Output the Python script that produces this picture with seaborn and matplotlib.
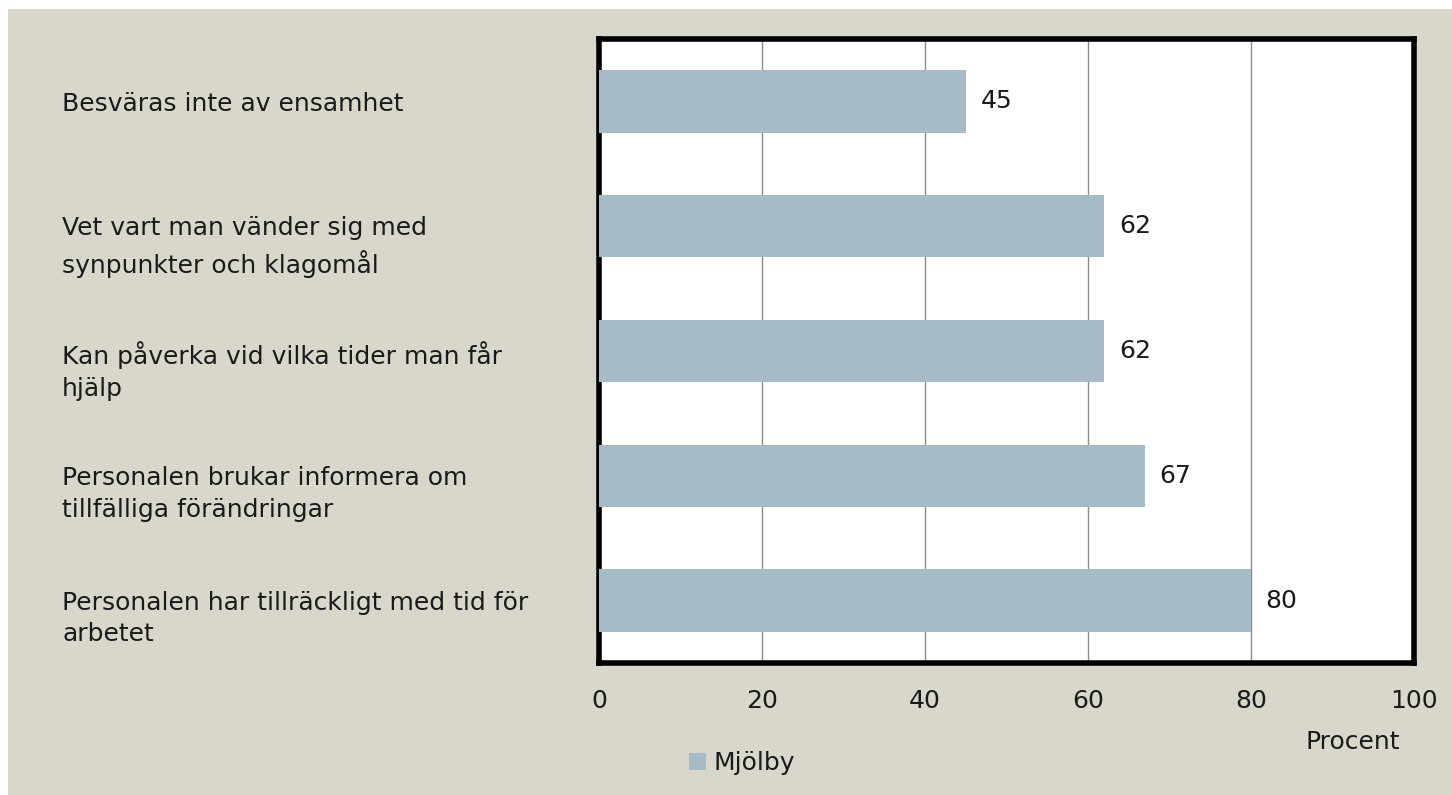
import matplotlib
matplotlib.use('Agg')
import matplotlib.pyplot as plt
import matplotlib.transforms as mtransforms
from matplotlib.patches import Patch, Rectangle
import seaborn as sns
import pandas as pd

# Data
kategorier = [
    'Besväras inte av ensamhet',
    'Vet vart man vänder sig med\nsynpunkter och klagomål',
    'Kan påverka vid vilka tider man får\nhjälp',
    'Personalen brukar informera om\ntillfälliga förändringar',
    'Personalen har tillräckligt med tid för\narbetet',
]
procent = [45, 62, 62, 67, 80]
serie = 'Mjölby'
x_ticks = [0, 20, 40, 60, 80, 100]

bakgrund = '#D9D7CB'
stapel_farg = '#A7BBC6'
textfarg = '#1a1a1a'
fs = 18

sns.set_theme(style='white')
plt.rcParams['font.family'] = ['DejaVu Sans']

df = pd.DataFrame({'kategori': kategorier, 'procent': procent})

fig = plt.figure(figsize=(14.52, 7.95), dpi=100, facecolor='white')
# beige bakgrund med smal vit kant uppe och till vänster
fig.patches.append(Rectangle((8 / 1452, 0), 1, 1 - 9 / 795, transform=fig.transFigure,
                             facecolor=bakgrund, edgecolor='none', zorder=-10))

ax = fig.add_axes([599 / 1452, 1 - 663 / 795, 815 / 1452, 624 / 795])
sns.barplot(data=df, x='procent', y='kategori', color=stapel_farg, width=0.5,
            saturation=1, linewidth=0, ax=ax, zorder=3)

ax.set_xlim(0, 100)
ax.set_ylim(4.5, -0.5)
ax.set_xticks(x_ticks)
ax.set_xticklabels([str(t) for t in x_ticks], fontsize=fs)
ax.tick_params(axis='x', length=0, pad=19, colors=textfarg)
ax.set_yticks([])
ax.set_xlabel('')
ax.set_ylabel('')
ax.set_facecolor('white')
ax.grid(axis='x', color='#8c8c8c', linewidth=1, zorder=0)
ax.set_axisbelow(True)
for s in ax.spines.values():
    s.set_color('black')
    s.set_linewidth(4)

# kategorietiketter, vänsterjusterade; första raden i höjd med stapeln
trans = mtransforms.blended_transform_factory(fig.transFigure, ax.transData)
trans = mtransforms.offset_copy(trans, fig=fig, y=7, units='points')
for i, namn in enumerate(kategorier):
    fig.text(62 / 1452, i, namn, transform=trans, ha='left', va='top',
             fontsize=fs, color=textfarg, linespacing=1.4)

# värdeetiketter
for i, v in enumerate(procent):
    ax.text(v + 1.8, i, str(v), ha='left', va='center', fontsize=fs, color=textfarg)

fig.text(1400 / 1452, 1 - 742 / 795, 'Procent', ha='right', va='center',
         fontsize=fs, color=textfarg)

fig.legend(handles=[Patch(facecolor=stapel_farg, edgecolor='none', label=serie)],
           loc='center', bbox_to_anchor=(742 / 1452, 1 - 763 / 795), frameon=False,
           fontsize=fs, handlelength=0.7, handleheight=0.7, handletextpad=0.3,
           labelcolor=textfarg)

fig.savefig('out.png', dpi=100, facecolor=fig.get_facecolor())
